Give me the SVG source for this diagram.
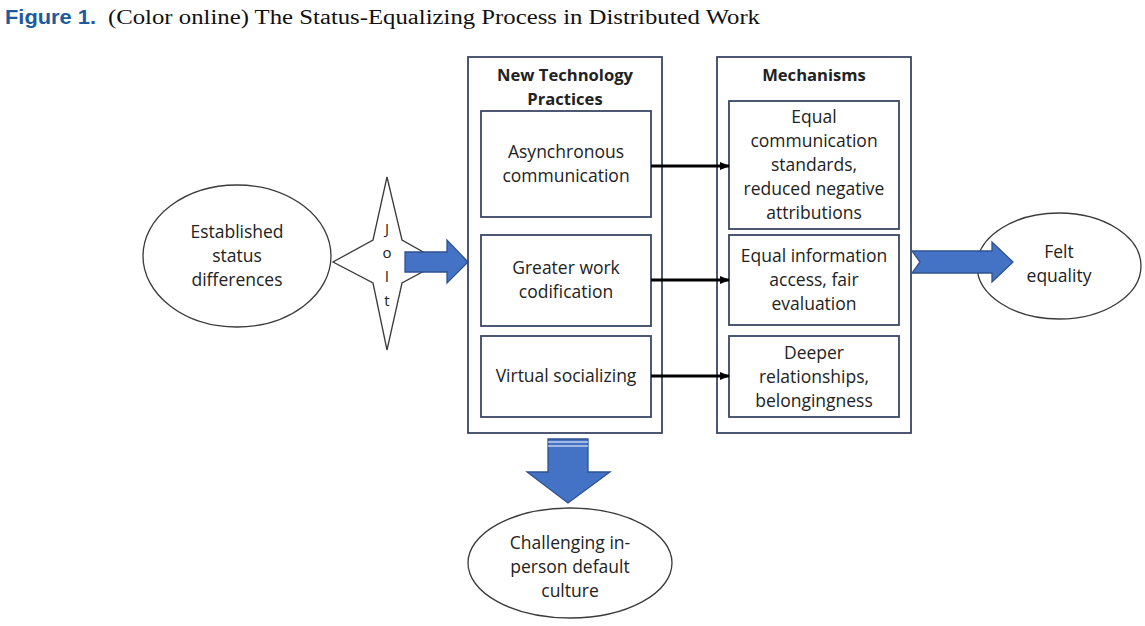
<svg xmlns="http://www.w3.org/2000/svg" width="1145" height="626" viewBox="0 0 1145 626">
<defs>
<style>
.t{font-family:"Open Sans","Noto Sans",sans-serif;font-size:17.5px;fill:#222;text-anchor:middle}
.b{font-weight:bold;font-size:16.6px}
.j{font-size:15px}
.box{fill:#fff;stroke:#3a4763;stroke-width:1.8}
.ell{fill:#fff;stroke:#3a3a3a;stroke-width:1.3}
.blue{fill:#4472c4;stroke:#2f528f;stroke-width:1.3}
.con{stroke:#000;stroke-width:3;fill:none}
</style>
<marker id="ah" markerWidth="10" markerHeight="8" refX="9" refY="4" orient="auto" markerUnits="userSpaceOnUse">
<path d="M0,0 L10,4 L0,8 Z" fill="#000"/>
</marker>
</defs>
<rect width="1145" height="626" fill="#fff"/>
<text x="5" y="24" font-family="Liberation Sans,Arial,sans-serif" font-weight="bold" font-size="21" fill="#1f5a9e" textLength="91" lengthAdjust="spacingAndGlyphs">Figure 1.</text>
<text x="108" y="24" font-family="Liberation Serif,Times New Roman,serif" font-size="20.5" fill="#111" textLength="652" lengthAdjust="spacingAndGlyphs">(Color online) The Status-Equalizing Process in Distributed Work</text>

<g id="established">
<ellipse class="ell" cx="237" cy="256" rx="94" ry="71"/>
<text class="t" x="237" y="238">Established</text>
<text class="t" x="237" y="262">status</text>
<text class="t" x="237" y="286">differences</text>
</g>

<g id="jolt">
<path class="ell" d="M387,177 L402,240 L441,262 L402,283 L387,350 L373,283 L333,262 L373,240 Z"/>
<text class="t j" x="387" y="234">J</text>
<text class="t j" x="387" y="258">o</text>
<text class="t j" x="387" y="282">l</text>
<text class="t j" x="387" y="306">t</text>
</g>

<g id="practices">
<rect class="box" x="468" y="57" width="194" height="376"/>
<text class="t b" x="565" y="81">New Technology</text>
<text class="t b" x="565" y="105">Practices</text>
</g>
<g id="async">
<rect class="box" x="481" y="111" width="170" height="106"/>
<text class="t" x="566" y="158">Asynchronous</text>
<text class="t" x="566" y="182">communication</text>
</g>
<g id="codification">
<rect class="box" x="481" y="235" width="170" height="91"/>
<text class="t" x="566" y="274">Greater work</text>
<text class="t" x="566" y="298">codification</text>
</g>
<g id="socializing">
<rect class="box" x="481" y="336" width="170" height="81"/>
<text class="t" x="566" y="382">Virtual socializing</text>
</g>

<g id="mechanisms">
<rect class="box" x="717" y="57" width="194" height="376"/>
<text class="t b" x="814" y="81">Mechanisms</text>
</g>
<g id="mech1">
<rect class="box" x="729" y="101" width="170" height="128"/>
<text class="t" x="814" y="123">Equal</text>
<text class="t" x="814" y="147">communication</text>
<text class="t" x="814" y="171">standards,</text>
<text class="t" x="814" y="195">reduced negative</text>
<text class="t" x="814" y="219">attributions</text>
</g>
<g id="mech2">
<rect class="box" x="729" y="235" width="170" height="90"/>
<text class="t" x="814" y="262">Equal information</text>
<text class="t" x="814" y="286">access, fair</text>
<text class="t" x="814" y="310">evaluation</text>
</g>
<g id="mech3">
<rect class="box" x="729" y="336" width="170" height="81"/>
<text class="t" x="814" y="359">Deeper</text>
<text class="t" x="814" y="383">relationships,</text>
<text class="t" x="814" y="407">belongingness</text>
</g>

<g id="felt">
<ellipse class="ell" cx="1059" cy="266" rx="82" ry="53"/>
<text class="t" x="1059" y="258">Felt</text>
<text class="t" x="1059" y="282">equality</text>
</g>

<g id="challenging">
<ellipse class="ell" cx="570" cy="563" rx="102" ry="55"/>
<text class="t" x="570" y="549">Challenging in-</text>
<text class="t" x="570" y="573">person default</text>
<text class="t" x="570" y="597">culture</text>
</g>

<g id="connectors">
<path class="blue" d="M405,252 L447,252 L447,240 L468,262 L447,283 L447,272 L405,272 Z"/>
<path class="blue" d="M912,251 L992,251 L992,242 L1013,262 L992,282 L992,273 L912,273 L920,262 Z"/>
<path class="blue" d="M548,439 L588,439 L588,472 L610,472 L568,503 L527,472 L548,472 Z"/>
<line x1="548" y1="442" x2="588" y2="442" stroke="#fff" stroke-width="1"/>
<line x1="548" y1="446" x2="588" y2="446" stroke="#fff" stroke-width="1"/>
<line class="con" x1="651" y1="166" x2="729" y2="166" marker-end="url(#ah)"/>
<line class="con" x1="651" y1="280" x2="729" y2="280" marker-end="url(#ah)"/>
<line class="con" x1="651" y1="376" x2="729" y2="376" marker-end="url(#ah)"/>
</g>
</svg>
